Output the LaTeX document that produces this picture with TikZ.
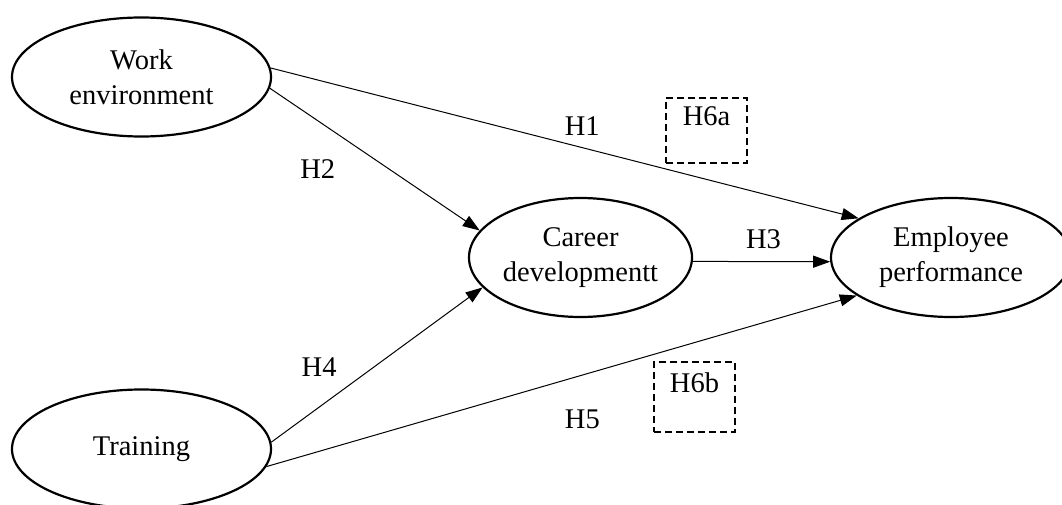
\documentclass[tikz,border=0pt]{standalone}
\usepackage{fontspec}
\setmainfont{Liberation Serif}
\usetikzlibrary{positioning, shapes.geometric, arrows.meta}

\begin{document}
\begin{tikzpicture}[x=1pt, y=-1pt, font=\fontsize{28.5}{35}\selectfont,
	v/.style={ellipse, draw, line width=2.2pt, inner sep=0pt, align=center, minimum height=119pt},
	hbox/.style={draw, dash pattern=on 7pt off 4pt, line width=1.2pt, minimum width=81pt, inner ysep=6pt},
	hyp/.style={-{Triangle[length=17pt, width=12pt]}, line width=1pt}]
		\useasboundingbox (0,0) rectangle (1062,505);

		\node[v, minimum width=259pt] (w) at (141.5,77) {Work\\environment};
		\node[v, minimum width=259pt] (t) at (141.5,449) {Training};
		\node[v, minimum width=223pt] (c) at (580.5,257.5) {Career\\developmentt};
		\node[v, minimum width=240pt] (p) at (951,257.5) {Employee\\performance};

		\node[hbox, text height=22pt, text depth=31pt] (h6a) at (706.5,130.5) {H6a};
		\node[hbox, text height=24pt, text depth=34pt] (h6b) at (694.5,397) {H6b};

		\path[hyp] (w.4.5) edge node [pos=0.53, yshift=22pt] {H1} (p.157);
		\path[hyp] (w.-5.9) edge node [pos=0.3, xshift=-15pt, yshift=-38pt] {H2} (c.165);
		\path[hyp] (c.-2.8) edge node [pos=0.5, xshift=2pt, yshift=22pt] {H3} (p.182.6);
		\path[hyp] (t.3.6) edge node [pos=0.25, xshift=-5pt, yshift=36pt] {H4} (c.197.2);
		\path[hyp] (t.-8.3) edge node [pos=0.53, xshift=3pt, yshift=-43pt] {H5} (p.202.5);
	\end{tikzpicture}
\end{document}
